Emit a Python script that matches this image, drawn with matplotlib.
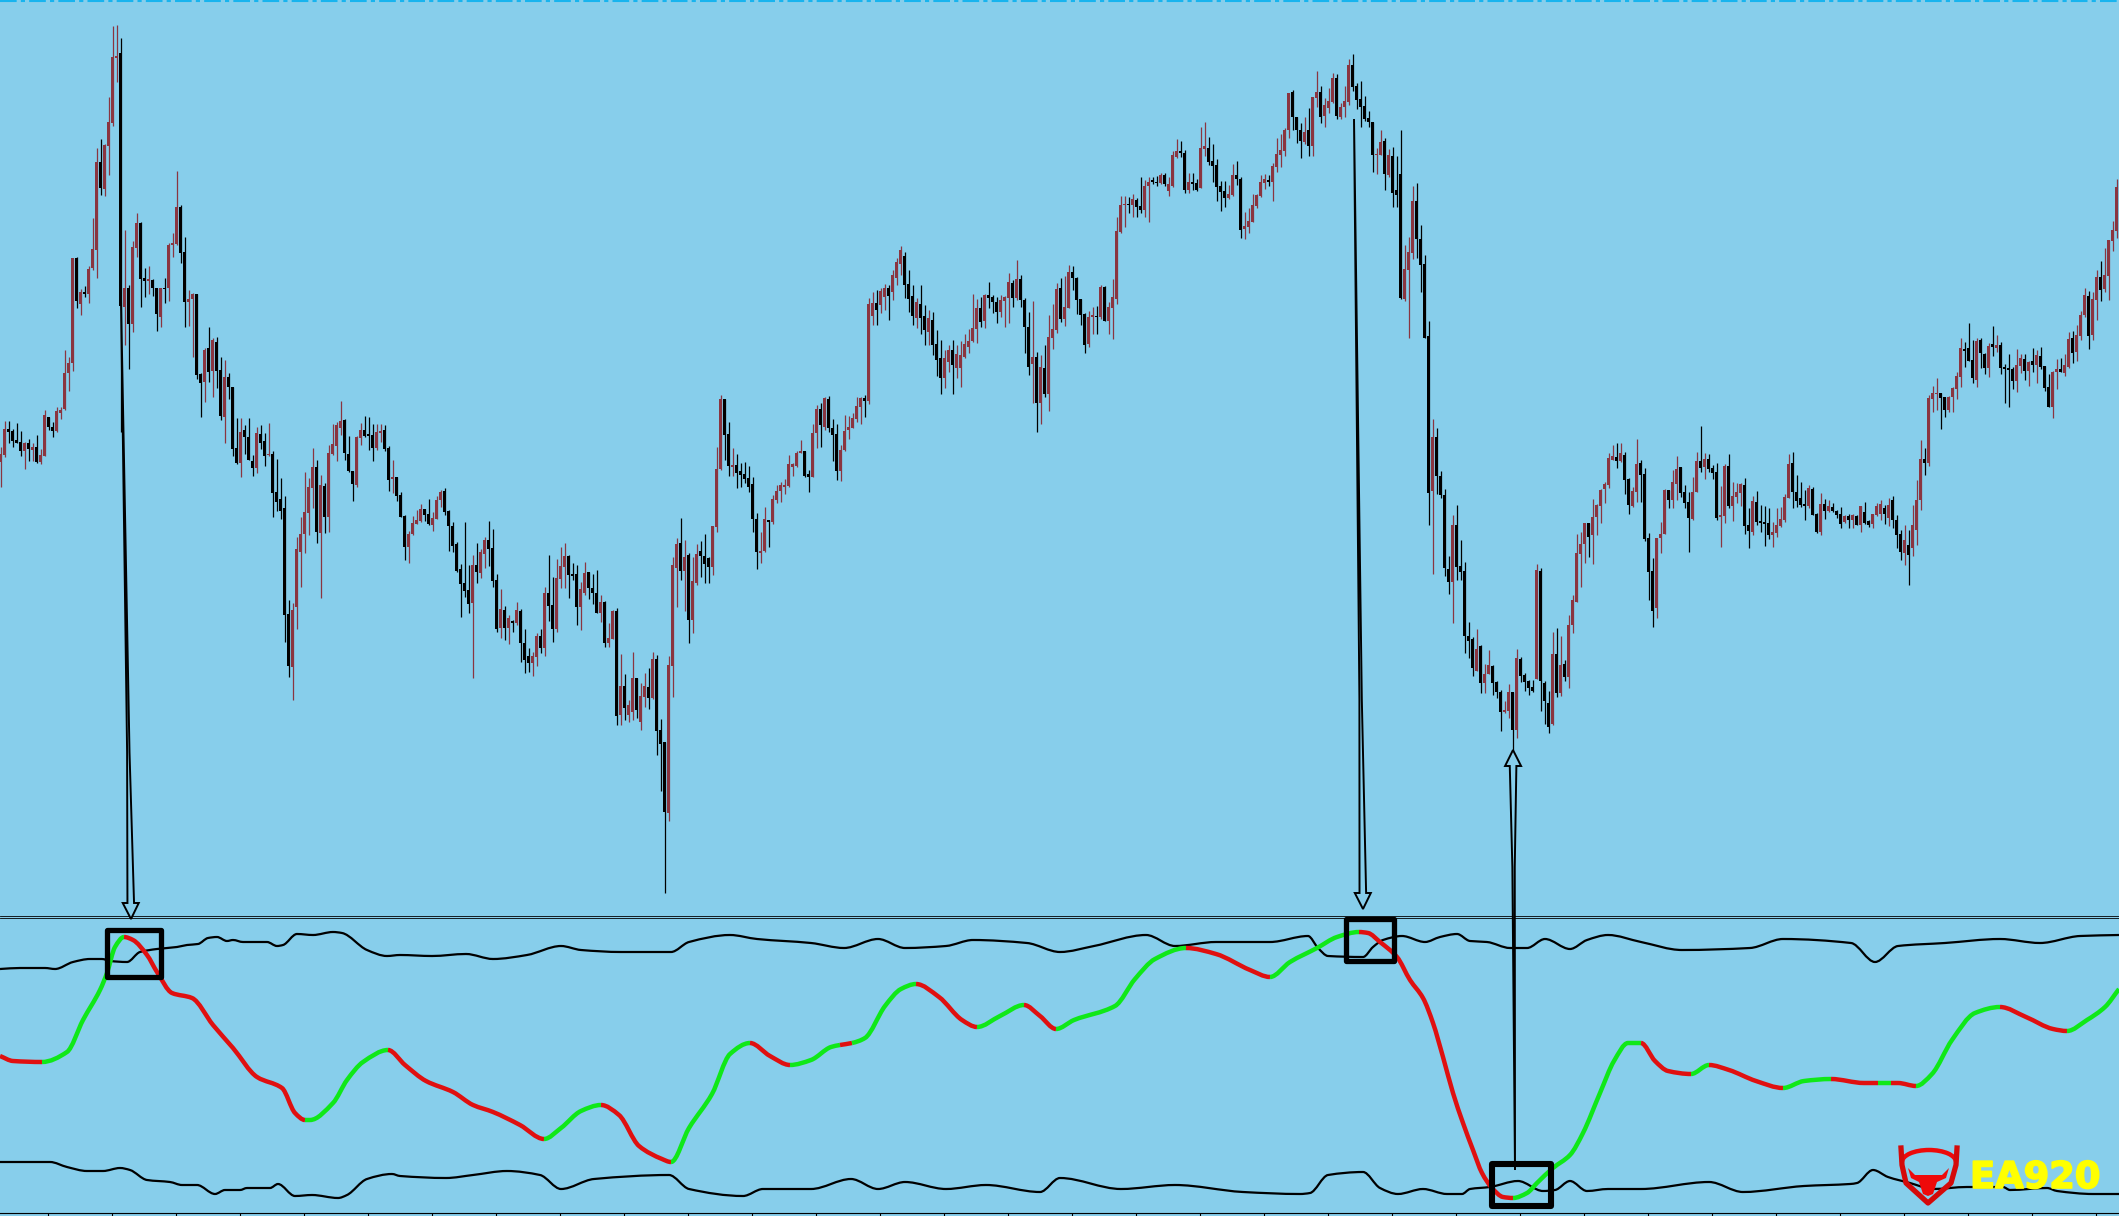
import numpy as np
import matplotlib
matplotlib.use("Agg")
import matplotlib.pyplot as plt
import matplotlib.patheffects as pe
from matplotlib.path import Path
from matplotlib.patches import Polygon, Rectangle, Arc, PathPatch

# candle values (rows, smaller is higher), one bar every 4 px
highs = [
    447,421,421,429,423,431,442,439,443,435, 449,410,417,422,407,407,350,357,258,257,
    289,286,266,218,148,139,144,97,26,25, 38,230,285,241,213,222,268,266,279,288,
    288,278,243,233,171,205,237,290,293,294, 373,348,327,338,337,357,360,373,387,418,
    418,425,418,455,427,425,433,423,451,459, 478,496,600,603,537,517,472,478,448,460,
    475,483,445,424,422,401,419,436,471,436, 423,416,417,424,424,424,425,446,460,477,
    492,515,531,516,510,504,509,499,512,496, 490,488,510,522,542,564,522,565,555,543,
    549,537,521,529,574,589,606,615,620,602, 609,629,648,652,633,629,587,555,577,559,
    547,543,555,563,565,582,562,572,574,570, 595,601,623,610,608,654,674,700,652,678,
    683,673,668,652,655,719,742,656,557,538, 518,540,553,557,544,541,534,557,526,447,
    395,399,422,448,454,463,462,466,477,513, 532,507,520,495,485,482,479,455,463,451,
    440,451,470,424,405,403,397,396,419,424, 445,415,416,413,397,397,395,298,292,290,
    288,284,285,270,258,246,252,270,285,298, 285,305,310,312,330,340,350,345,340,345,
    341,334,329,294,299,297,294,282,295,297, 295,296,273,280,260,275,298,312,301,352,
    355,345,315,304,283,278,276,265,266,277, 299,313,311,307,306,285,286,302,279,217,
    196,196,197,194,198,177,180,177,177,176, 173,173,177,151,139,141,150,173,173,179,
    127,122,137,144,159,181,181,185,164,161, 177,212,208,194,194,175,174,175,163,138,
    134,128,93,90,117,123,117,108,97,71, 86,98,88,73,74,103,86,59,54,83,
    81,96,111,122,148,130,138,149,147,156, 130,245,237,186,183,225,255,321,419,428,
    471,489,556,515,505,540,562,622,637,629, 645,664,650,665,681,690,701,684,692,649,
    657,673,680,680,564,568,681,691,632,628, 636,660,615,595,534,532,523,523,499,504,
    489,482,453,445,443,443,452,478,487,439, 460,468,533,558,538,522,489,490,470,456,
    467,485,492,477,452,426,453,454,465,463, 486,464,454,482,483,483,478,508,496,491,
    505,506,508,522,508,507,494,454,452,475, 482,490,485,487,513,493,499,500,503,510,
    507,515,514,514,515,506,502,520,514,503, 500,505,498,496,515,530,525,530,505,480,
    440,448,395,386,378,393,397,396,387,372, 338,342,323,340,338,338,353,343,326,335,
    342,364,354,367,349,354,354,361,348,350, 347,366,374,371,359,358,354,332,331,325,
    311,288,291,292,270,261,248,240,221,179,
]
body_tops = [
    454,429,429,431,440,442,443,443,447,447, 455,415,417,427,411,410,373,363,258,258,
    292,292,269,249,162,162,145,122,57,56, 53,288,288,247,223,223,278,279,280,288,
    288,288,245,243,207,207,252,299,294,294, 374,350,348,340,342,370,377,377,387,448,
    432,430,437,461,433,434,441,454,454,492, 499,508,614,610,549,534,512,487,467,467,
    485,486,453,444,425,421,420,454,471,437, 430,430,434,435,432,431,430,448,477,477,
    495,516,534,523,520,509,509,514,518,500, 492,491,511,526,544,569,583,590,565,565,
    552,540,540,548,580,609,610,618,621,610, 611,643,656,656,636,636,593,593,605,578,
    566,556,556,574,574,589,573,572,588,593, 602,602,638,611,611,686,686,705,678,678,
    696,686,687,659,659,730,742,665,565,544, 543,557,555,581,554,551,556,558,526,469,
    399,399,434,465,465,471,474,478,484,519, 551,519,520,499,491,485,485,464,464,453,
    451,451,474,433,409,409,398,399,428,434, 450,431,427,418,406,398,398,304,303,303,
    291,288,288,275,262,250,256,284,296,302, 304,316,318,320,344,358,358,350,350,354,
    355,344,341,328,308,308,295,295,297,302, 300,297,282,283,279,279,300,327,357,357,
    367,368,337,329,289,288,307,272,272,278, 299,314,317,315,316,287,287,307,297,231,
    205,204,204,199,200,206,186,182,180,182, 175,175,184,155,151,151,153,182,182,183,
    148,146,148,161,165,186,191,194,175,175, 179,226,221,205,195,182,179,180,166,154,
    150,130,93,92,117,130,132,130,97,92, 92,105,101,78,78,107,101,65,65,86,
    99,106,118,122,154,142,141,155,156,190, 174,269,252,201,201,239,264,336,437,437,
    476,495,569,525,525,566,571,636,639,649, 646,674,665,666,682,692,710,692,692,658,
    659,675,681,687,570,571,683,703,654,654, 665,664,625,600,553,544,523,523,517,505,
    490,484,458,456,457,453,455,479,491,464, 463,474,538,571,538,534,490,490,482,469,
    467,492,502,492,461,461,459,459,468,472, 515,466,466,496,492,484,485,525,501,502,
    521,522,523,532,525,519,497,464,463,492, 498,504,488,489,514,504,504,506,507,511,
    514,516,516,515,516,506,512,521,514,506, 504,508,505,500,520,534,540,545,525,500,
    459,459,398,393,393,393,397,397,388,376, 348,349,348,360,341,340,354,346,344,345,
    345,367,368,369,365,358,359,362,361,355, 356,366,387,372,369,369,365,339,338,335,
    315,295,296,299,277,277,275,240,230,187,
]
body_bots = [
    462,455,432,441,443,451,451,449,450,462, 462,456,427,431,431,413,409,373,363,301,
    304,294,294,268,250,188,189,146,123,58, 306,307,324,324,248,279,281,281,288,314,
    317,289,288,245,244,253,302,302,299,375, 383,382,372,371,371,416,417,387,449,463,
    463,437,460,468,468,443,456,455,493,502, 511,615,666,667,607,552,534,513,488,532,
    533,517,517,454,446,428,453,471,484,485, 438,436,436,448,448,433,449,480,479,496,
    517,547,547,534,524,521,515,524,525,519, 500,512,526,546,571,584,591,604,603,572,
    573,554,549,581,629,628,628,628,623,623, 643,660,663,663,657,648,648,606,629,629,
    579,567,575,576,607,607,593,588,593,613, 613,643,643,639,716,715,708,715,712,710,
    722,697,698,698,731,744,812,813,666,568, 571,571,620,620,583,556,564,567,567,527,
    469,435,466,467,473,475,479,487,519,552, 553,551,522,522,500,491,487,486,467,466,
    453,476,477,477,433,425,427,428,435,471, 471,450,430,428,419,407,401,401,316,310,
    305,297,296,292,278,264,285,299,316,318, 318,330,332,345,360,378,378,362,365,368,
    368,357,347,341,329,322,321,298,302,312, 312,301,298,298,298,300,327,367,364,403,
    403,394,394,338,330,319,319,308,278,300, 315,345,344,317,317,317,321,321,308,299,
    232,205,205,205,207,210,210,186,182,183, 183,184,191,186,157,153,190,190,184,190,
    188,149,162,166,187,192,198,198,195,179, 230,229,227,222,206,196,183,182,182,167,
    155,151,130,117,130,141,142,146,146,98, 117,116,108,102,116,117,107,102,87,100,
    107,119,122,155,155,155,174,175,193,195, 298,299,270,253,239,265,338,493,491,476,
    495,568,582,582,567,572,636,641,668,671, 683,683,674,683,692,712,712,711,730,730,
    676,682,688,691,679,681,701,727,724,693, 693,677,677,625,602,554,544,537,535,517,
    506,489,485,460,461,461,480,505,506,492, 475,539,572,611,608,538,534,500,500,484,
    493,503,518,519,492,468,467,469,473,518, 517,516,506,506,497,493,526,531,532,522,
    523,524,535,535,533,526,520,498,492,501, 505,506,506,515,532,532,511,511,511,515,
    524,522,520,520,525,525,523,525,524,515, 514,514,518,520,535,552,553,555,548,530,
    500,463,463,399,394,398,410,410,397,389, 377,351,361,378,380,353,368,368,347,348,
    368,369,370,381,381,366,371,371,365,365, 367,388,407,407,372,372,373,367,353,352,
    336,315,336,335,300,290,289,276,241,231,
]
lows = [
    487,457,443,447,443,456,469,461,461,463, 464,456,430,437,432,419,410,391,371,308,
    315,297,303,270,278,195,196,175,126,82, 432,345,369,332,257,307,297,294,296,331,
    327,303,301,257,245,263,327,326,357,379, 417,402,382,397,388,420,443,399,456,464,
    477,454,460,476,473,449,466,456,517,511, 519,642,677,700,629,587,553,535,508,543,
    598,533,532,455,461,435,460,472,501,487, 445,437,450,461,450,442,451,491,493,501,
    517,560,563,535,524,522,521,525,531,519, 507,515,551,552,572,617,597,613,678,583,
    578,568,566,587,632,638,640,644,632,625, 662,673,672,676,666,653,656,621,642,632,
    588,588,598,580,625,630,595,599,604,613, 622,647,647,639,725,725,720,722,720,718,
    730,707,709,699,755,791,893,821,697,607, 580,611,643,633,585,577,583,583,575,532,
    470,460,476,476,488,487,483,492,532,569, 563,552,547,524,503,502,494,487,476,467,
    453,477,492,477,448,447,430,432,461,480, 481,451,439,428,422,424,417,404,325,325,
    313,310,320,300,285,275,298,312,325,328, 334,345,345,355,376,394,388,372,394,378,
    387,358,353,342,343,327,328,308,313,323, 317,327,323,307,300,307,353,375,403,432,
    424,397,411,349,333,322,326,308,290,314, 325,353,347,334,334,319,321,334,339,304,
    233,227,213,217,217,213,217,222,184,186, 184,186,196,187,158,157,193,193,190,191,
    188,156,165,182,201,211,207,199,196,185, 238,239,233,222,208,197,189,186,201,172,
    167,156,138,130,143,158,144,156,156,107, 123,127,113,103,119,119,117,105,91,109,
    127,121,127,172,174,155,190,177,207,207, 299,301,338,259,258,292,338,525,574,494,
    498,576,594,623,580,580,653,658,676,671, 693,693,674,695,698,731,713,718,750,738,
    682,691,695,692,679,711,724,733,725,697, 696,681,688,633,602,587,563,557,564,535,
    523,503,488,460,468,462,494,514,507,502, 502,541,600,627,618,553,534,508,508,500,
    497,508,552,520,492,472,479,472,479,520, 547,523,508,521,503,506,534,548,535,525,
    532,546,539,547,537,527,522,498,508,507, 507,520,508,515,533,535,519,512,512,518,
    528,523,528,528,525,532,524,527,528,516, 520,524,526,528,548,560,565,585,556,545,
    510,475,466,412,410,429,417,412,412,399, 387,367,361,383,387,368,374,377,356,352,
    374,403,407,389,392,373,380,386,372,383, 369,391,407,418,389,372,376,368,363,361,
    340,317,349,340,320,301,292,300,251,238,
]
# U = maroon bar, D = black bar
directions = (
    "UUDDDDUDUD" "UUDDUUUUUD" "UDUUUDUUUU" "DUDUUDDUDD" "UDUUUDDUUD" "DUDUDDUDDD"
    "UDDDUDDUDD" "DDDUUUUUUD" "UDUUUUDDDU" "UDDDUUDDUD" "DDUUUUDDUU" "UDDDDDDDUD"
    "UUDDDUDUDU" "DDDUUDUDDU" "UUDDDUUDDD" "UDUUDUDUUD" "UUDUDDDUUU" "DUDUUDDDUU"
    "UDDUDDDDDD" "UUDUUUUUUU" "UDDUUDUDDD" "UUUUUUDUUD" "UUDUUUDDDU" "DDUDDDUUDU"
    "UUUUUDUDDD" "UUUDUDDDUD" "UDUUUDUUDD" "DDUUDUDUUU" "UUDUDDUUDD" "UDUUUDDUDD"
    "UUDDDDDUUD" "DUUUUUUDUU" "UUUDDDUDUU" "DUUUDUUUDD" "DDDDUUDUDD" "DUUUDDDDUD"
    "DDDUDDDDDU" "DUUDDDUUDU" "DDDDUDDDUD" "UDUUUUUDUU" "UUUUDUDDUU" "DDDDUUUDUU"
    "DDDUUDUDDD" "UUDUUUDDUD" "DDDUUUUUDD" "DDUDDUDUDD" "DUDUDUDDUU" "UDUDDDUDUU"
    "UDUUUDDUUU" "UDDDUDDUDU" "DDDDUUDUDU" "DDDUUDUUDU" "UUDUUDUUUU"
)

# indicator lines, x in pixels of the picture
mid_x = [0,13,42,67,83,100,107,115,124,133,147,157,172,192,213,233,257,282,295,305,
         310,333,347,363,388,405,426,453,473,493,520,544,561,581,601,619,639,662,671,
         689,712,730,750,770,790,811,831,840,852,865,885,901,916,939,962,977,1000,1024,
         1040,1056,1074,1115,1135,1155,1186,1216,1250,1270,1290,1317,1337,1359,1368,
         1380,1397,1410,1423,1433,1443,1453,1463,1473,1482,1492,1503,1513,1527,1537,
         1553,1570,1583,1600,1614,1628,1641,1655,1668,1691,1709,1729,1756,1783,1804,
         1831,1864,1878,1891,1898,1916,1932,1952,1975,2000,2026,2053,2067,2087,2105,2119]
mid_y = [1056,1061,1062,1052,1020,990,973,947,937,940,955,972,993,998,1025,1048,1077,
         1088,1113,1120,1120,1103,1080,1062,1050,1065,1081,1092,1105,1112,1125,1139,
         1128,1111,1105,1115,1146,1159,1162,1128,1094,1054,1043,1056,1065,1060,1047,
         1045,1043,1038,1006,989,984,997,1020,1027,1016,1005,1016,1029,1020,1006,979,959,
         948,954,970,977,962,948,937,932,933,942,957,980,998,1023,1057,1093,1123,1150,
         1173,1188,1197,1198,1193,1183,1168,1155,1133,1093,1061,1043,1043,1061,1071,
         1074,1065,1070,1081,1088,1081,1079,1083,1083,1083,1083,1086,1074,1040,1013,1007,
         1017,1029,1031,1020,1007,989]
# where the middle line changes colour, and the colour of each stretch
mid_breaks = [42,124,305,388,544,601,671,750,790,840,852,916,977,1024,1056,1186,1270,
              1359,1513,1641,1691,1709,1783,1831,1878,1891,1916,2000,2067]
mid_colors = "rgrgrgrgrgrgrgrgrgrgrgrgrgrgrg"

upper_x = [0,20,45,55,73,90,102,110,127,140,157,177,187,198,208,217,227,233,243,267,
           277,283,297,313,333,342,367,387,400,432,466,493,527,561,581,621,671,689,730,
           757,811,844,878,905,946,973,1027,1060,1094,1146,1175,1216,1270,1308,1318,
           1328,1363,1373,1383,1402,1425,1440,1457,1470,1487,1510,1527,1545,1570,1587,
           1608,1641,1682,1750,1783,1851,1875,1898,1945,2000,2040,2080,2119]
upper_y = [969,968,968,969,962,959,959,961,962,952,949,947,945,944,938,937,941,940,942,
           942,946,945,934,935,932,933,950,956,955,956,954,959,955,946,950,952,952,942,
           935,939,943,948,939,948,946,940,943,952,946,935,946,942,942,936,948,956,957,
           947,940,936,942,937,934,941,942,948,948,939,949,940,935,942,950,948,939,943,
           962,946,943,939,943,936,935]
lower_x = [0,50,67,87,103,120,130,147,170,182,197,215,225,240,247,270,278,295,312,338,
           347,367,392,400,446,473,507,540,561,594,669,689,743,763,811,851,878,905,946,
           986,1040,1060,1121,1175,1243,1300,1310,1328,1363,1380,1398,1423,1447,1462,
           1470,1490,1518,1543,1555,1570,1587,1608,1641,1709,1743,1804,1850,1857,1873,
           1888,1910,1933,1967,2003,2010,2047,2057,2093,2119]
lower_y = [1162,1162,1167,1171,1171,1168,1170,1180,1182,1185,1185,1194,1190,1190,1188,
           1188,1184,1196,1195,1198,1195,1179,1174,1176,1178,1175,1171,1175,1189,1179,
           1175,1189,1196,1189,1189,1179,1189,1182,1189,1185,1192,1178,1189,1185,1192,
           1194,1193,1175,1172,1188,1194,1189,1194,1194,1189,1187,1181,1191,1190,1181,
           1191,1189,1189,1182,1192,1186,1184,1183,1170,1177,1183,1189,1187,1187,1190,
           1188,1191,1194,1194]

W, H = 2119, 1216
SKY = "#87CEEB"
MAROON = "#8A3540"


def slopes(xs, ys):
    # slope at each read point, flat at turning points
    xs = np.asarray(xs, float)
    ys = np.asarray(ys, float)
    d = np.diff(ys) / np.diff(xs)
    m = np.zeros(len(xs))
    m[0], m[-1] = d[0], d[-1]
    for i in range(1, len(xs) - 1):
        if d[i - 1] * d[i] > 0:
            m[i] = 2 * d[i - 1] * d[i] / (d[i - 1] + d[i])
    return m


def curve_patch(xs, ys, m, color, lw):
    # bezier curve going through the read points
    verts = [(xs[0], ys[0])]
    codes = [Path.MOVETO]
    for i in range(len(xs) - 1):
        h = (xs[i + 1] - xs[i]) / 3
        verts += [(xs[i] + h, ys[i] + m[i] * h), (xs[i + 1] - h, ys[i + 1] - m[i + 1] * h),
                  (xs[i + 1], ys[i + 1])]
        codes += [Path.CURVE4] * 3
    return PathPatch(Path(verts, codes), fill=False, edgecolor=color, lw=lw,
                     capstyle="butt", joinstyle="round", zorder=3)


fig = plt.figure(figsize=(W / 100, H / 100), dpi=100, facecolor=SKY)

# price panel
ax = fig.add_axes([0, (H - 915.5) / H, 1, 915.5 / H], facecolor=SKY)
ax.set_xlim(0, W)
ax.set_ylim(915.5, 0)
ax.set_xticks([])
ax.set_yticks([])
for s in ["top", "left", "right"]:
    ax.spines[s].set_visible(False)
ax.spines["bottom"].set_linewidth(0.6)

bar_x = 4 * np.arange(len(highs)) + 0.5
is_up = np.array([d == "U" for d in directions])
tops = np.array(body_tops)
bots = np.array(body_bots)
bar_colors = np.where(is_up, MAROON, "black")
ax.vlines(bar_x, highs, lows, colors=bar_colors, lw=0.9, zorder=2)
ax.bar(bar_x, bots - tops, bottom=tops, width=3.4, color=bar_colors, linewidth=0, zorder=3)
ax.hlines(1, 0, W, color="#18B4EE", lw=1.5, linestyles=(0, (8, 2, 2, 2)), zorder=4)

# indicator panel
ax2 = fig.add_axes([0, 3.5 / H, 1, 295 / H], facecolor=SKY)
ax2.set_xlim(0, W)
ax2.set_ylim(1212.5, 917.5)
ax2.set_yticks([])
ax2.set_xticks(np.arange(48, W, 64))
ax2.set_xticklabels([])
ax2.tick_params(axis="x", length=2.5, width=0.8, color="black")
for s in ["left", "right"]:
    ax2.spines[s].set_visible(False)
ax2.spines["top"].set_linewidth(0.6)
ax2.spines["bottom"].set_linewidth(0.8)

ax2.add_patch(curve_patch(upper_x, upper_y, slopes(upper_x, upper_y), "black", 1.6))
ax2.add_patch(curve_patch(lower_x, lower_y, slopes(lower_x, lower_y), "black", 1.6))

mid_m = slopes(mid_x, mid_y)
edges = [0] + mid_breaks + [W]
for i in range(len(edges) - 1):
    i0 = mid_x.index(edges[i])
    i1 = mid_x.index(edges[i + 1]) + 1
    col = "#E01010" if mid_colors[i] == "r" else "#10E818"
    ax2.add_patch(curve_patch(mid_x[i0:i1], mid_y[i0:i1], mid_m[i0:i1], col, 3.2))

# overlay for arrows, boxes and the logo, same pixels as the picture
top = fig.add_axes([0, 0, 1, 1])
top.set_xlim(0, W)
top.set_ylim(H, 0)
top.axis("off")
top.patch.set_alpha(0)


def arrow(x0, y0, x1, y1):
    # long hollow arrow, the two sides of the shaft run together towards the tail
    d = 1 if y1 > y0 else -1
    yb = y1 - d * 16
    xb = x1 + (x0 - x1) * 16 / abs(y1 - y0)
    ym = y0 + (yb - y0) * 0.75
    xm = x0 + (xb - x0) * 0.75
    pts = [(x0, y0), (xm + 1.2, ym), (xb + 3.3, yb), (xb + 8, yb), (x1, y1),
           (xb - 8, yb), (xb - 3.3, yb), (xm - 1.2, ym)]
    top.add_patch(Polygon(pts, closed=True, facecolor=SKY, edgecolor="black", lw=1.4,
                          joinstyle="miter", zorder=5))


arrow(121, 300, 131, 919)
arrow(1354, 119, 1363, 909)
arrow(1515, 1170, 1513, 750)

for x0, y0, x1, y1, lw in [(106.5, 929.5, 160.5, 976.5, 3.8),
                           (1346, 918.5, 1394, 961, 3.8),
                           (1492, 1164, 1551, 1206, 4.4)]:
    top.add_patch(Rectangle((x0, y0), x1 - x0, y1 - y0, fill=False, edgecolor="black",
                            lw=lw, zorder=6, joinstyle="round"))

# logo
RED = "#EE0A0A"
top.add_patch(Arc((1929, 1162), 54, 24, theta1=180, theta2=360, color=RED, lw=3.2, zorder=7))
top.plot([1901, 1902, 1906, 1928, 1951, 1956, 1957], [1148, 1165, 1183, 1203, 1183, 1165, 1148],
         color="#D40A0A", lw=3.8, solid_joinstyle="round", zorder=7)
head = [(1908, 1168), (1915, 1175), (1942, 1175), (1949, 1168), (1946, 1178), (1937, 1182),
        (1933, 1194), (1928, 1196), (1923, 1194), (1919, 1182), (1911, 1178)]
top.add_patch(Polygon(head, closed=True, facecolor=RED, edgecolor="none", zorder=7))
top.text(1970, 1188, "EA920", color="#FFFF00", fontsize=26.5, fontweight="bold",
         family="DejaVu Sans", ha="left", va="baseline", zorder=7,
         path_effects=[pe.withStroke(linewidth=1.2, foreground="#FFFF00")])

fig.savefig("out.png", dpi=100, facecolor=SKY)
